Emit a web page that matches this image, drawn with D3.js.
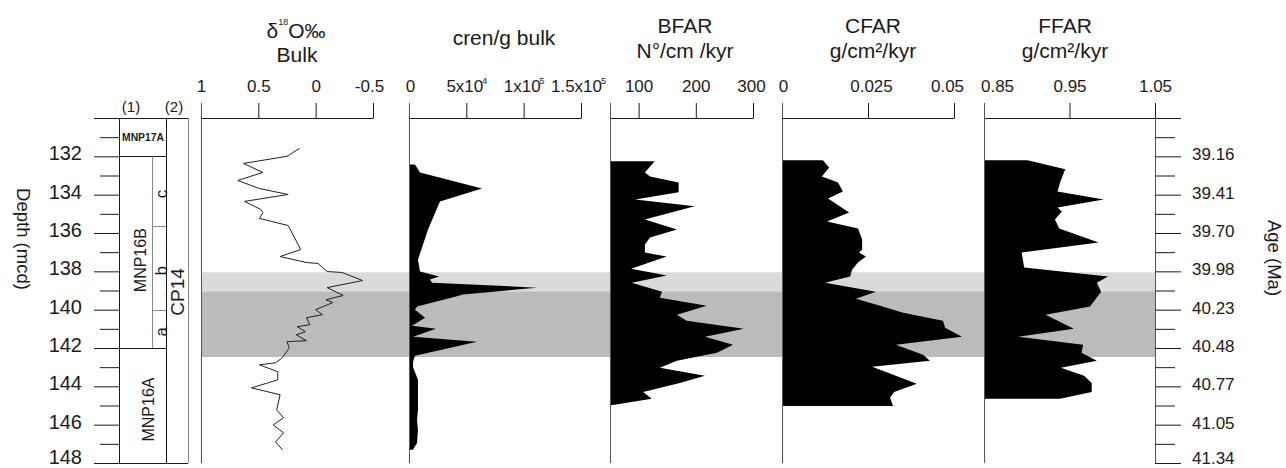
<!DOCTYPE html>
<html>
<head>
<meta charset="utf-8">
<script src="https://cdn.jsdelivr.net/npm/d3@7"></script>
<style>
  body { margin: 0; background: #fff; }
  svg { display: block; }
</style>
</head>
<body>
<svg id="chart" width="1286" height="468"></svg>
<script>
// ---- Depth / age frame ----
const depthDomain = [130, 148];
const depthMajor = [130, 132, 134, 136, 138, 140, 142, 144, 146, 148];
const depthLabels = ["", "132", "134", "136", "138", "140", "142", "144", "146", "148"];
const depthMinor = [131, 133, 135, 137, 139, 141, 143, 145, 147];
const ageLabels = ["", "39.16", "39.41", "39.70", "39.98", "40.23", "40.48", "40.77", "41.05", "41.34"];

// ---- Biostratigraphic zones ----
const zoneNames1 = ["MNP17A", "MNP16B", "MNP16A"];
const zoneTops1 = [130, 132, 142];
const zoneBases1 = [132, 142, 148];
const subZoneNames = ["c", "b", "a"];
const subZoneTops = [132, 135.62, 140.0];
const subZoneBases = [135.62, 140.0, 142];
const zoneNames2 = ["CP14"];

// ---- Shaded intervals ----
const bandTops = [138.05, 139.05];
const bandBases = [139.05, 142.47];

// ---- Bulk oxygen isotopes ----
const d18oTicks = [1, 0.5, 0, -0.5];
const d18oTickLabels = ["1", "0.5", "0", "-0.5"];
const d18oDepth = [131.58,132.0,132.37,132.84,133.26,133.68,133.99,134.35,134.77,134.93,135.24,135.61,136.86,137.23,137.54,137.59,138.01,138.06,138.48,138.85,139.26,139.48,139.63,140.0,140.26,140.42,140.78,140.89,141.15,141.31,141.62,141.67,141.99,142.51,142.77,142.88,143.24,143.66,144.08,144.44,145.23,145.64,146.01,146.43,146.90,147.31];
const d18oValue = [0.14,0.25,0.63,0.46,0.68,0.49,0.24,0.62,0.48,0.46,0.49,0.24,0.13,0.31,0.08,-0.02,-0.10,-0.23,-0.41,-0.10,-0.24,-0.09,-0.15,0.00,-0.06,0.08,0.05,0.16,0.09,0.17,0.08,0.25,0.23,0.29,0.35,0.49,0.33,0.33,0.56,0.31,0.34,0.28,0.37,0.28,0.35,0.29];

// ---- Crenulations per gram of bulk sediment ----
const crenTicks = [0, 50000, 100000, 150000];
const crenTickBase = ["0", "5x10", "1x10", "1.5x10"];
const crenTickExp = ["", "4", "5", "5"];
const crenDepth = [132.42,132.84,133.68,134.35,135.82,137.39,138.01,138.27,138.43,138.59,138.85,139.21,139.32,139.84,140.0,140.42,140.84,141.0,141.41,141.67,142.41,142.73,142.99,143.66,145.23,145.75,146.27,146.95,147.21,147.31];
const crenValue = [5200,9600,63700,27000,16600,7800,9600,26200,18300,20100,111600,47100,40100,7000,5200,14000,2600,23500,3500,59300,5200,3500,3500,7800,7800,7000,7800,7000,4400,3500];

// ---- Benthic foraminiferal accumulation rate ----
const bfarTicks = [100, 200, 300];
const bfarTickLabels = ["100", "200", "300"];
const bfarDepth = [132.25,132.84,133.05,133.36,133.88,134.25,134.61,135.29,135.82,136.24,136.6,137.02,137.23,137.86,138.22,138.59,139.06,139.38,139.8,140.26,140.58,141.0,141.41,141.83,142.25,142.67,143.03,143.45,143.82,144.29,144.65,144.97];
const bfarValue = [128,111,120,170,170,94,198,111,167,120,111,111,149,87,149,88,141,137,219,167,184,284,216,265,237,167,137,216,172,108,123,55];

// ---- Coarse fraction accumulation rate ----
const cfarTicks = [0, 0.025, 0.05];
const cfarTickLabels = ["0", "0.025", "0.05"];
const cfarDepth = [132.21,132.58,133.05,133.36,133.83,134.2,134.93,135.4,135.77,136.34,136.86,137.02,137.23,137.54,137.91,138.27,138.59,139.06,139.43,139.8,140.16,140.58,140.94,141.41,141.83,142.35,142.67,142.98,143.87,144.29,144.6,145.02];
const cfarValue = [0.0119,0.0137,0.0116,0.0163,0.0177,0.0134,0.0195,0.0131,0.0221,0.0233,0.0233,0.0224,0.0244,0.0221,0.0204,0.0198,0.0125,0.0273,0.0215,0.0285,0.0352,0.0468,0.0474,0.0523,0.0331,0.0410,0.0430,0.0262,0.0392,0.0326,0.0314,0.0323];

// ---- Fine fraction accumulation rate ----
const ffarTicks = [0.85, 0.95, 1.05];
const ffarTickLabels = ["0.85", "0.95", "1.05"];
const ffarDepth = [132.21,132.68,133.36,133.83,134.25,134.67,134.88,135.29,135.77,136.5,137.02,137.8,138.27,138.59,139.06,139.84,140.26,141.0,141.41,141.83,142.25,142.67,143.03,143.45,143.82,144.29,144.65];
const ffarValue = [0.901,0.945,0.939,0.936,0.990,0.936,0.941,0.933,0.938,0.984,0.894,0.897,0.995,0.982,0.987,0.974,0.922,0.955,0.890,0.966,0.964,0.982,0.940,0.967,0.976,0.976,0.939];

// ================= drawing =================
const FONT = '"Liberation Sans", Arial, Helvetica, sans-serif';
const INK = "#1a1a1a";
const svg = d3.select("#chart").attr("font-family", FONT);

const axisY = 118;        // top axis baseline
const tickTop = 103;      // upper end of top-axis ticks
const plotBottom = 463;
const y = d3.scaleLinear().domain(depthDomain).range([axisY, plotBottom]);

const xD18O = d3.scaleLinear().domain([1, -0.5]).range([201, 373]);
const xCren = d3.scaleLinear().domain([0, 150000]).range([409, 581]);
const xBfar = d3.scaleLinear().domain([50, 300]).range([610, 753]);
const xCfar = d3.scaleLinear().domain([0, 0.05]).range([782, 954]);
const xFfar = d3.scaleLinear().domain([0.85, 1.05]).range([984, 1155]);
const rightAxisX = 1155;

const zip = (a, b) => a.map((d, i) => ({ depth: d, value: b[i] }));
const crisp = v => Math.round(v) + 0.5;

// shaded intervals
const bandFills = ["#dadada", "#bbbbbb"];
svg.append("g").selectAll("rect")
  .data(bandTops.map((t, i) => ({ top: t, base: bandBases[i], i })))
  .join("rect")
  .attr("x", xD18O.range()[0])
  .attr("width", rightAxisX - xD18O.range()[0])
  .attr("y", d => y(d.top))
  .attr("height", d => y(d.base) - y(d.top))
  .attr("fill", d => bandFills[d.i]);

// filled profiles
function drawArea(scale, depth, value) {
  const area = d3.area()
    .y(d => y(d.depth))
    .x0(scale(scale.domain()[0]))
    .x1(d => scale(d.value));
  svg.append("path")
    .datum(zip(depth, value))
    .attr("d", area)
    .attr("fill", "#000");
}
drawArea(xCren, crenDepth, crenValue);
drawArea(xBfar, bfarDepth, bfarValue);
drawArea(xCfar, cfarDepth, cfarValue);
drawArea(xFfar, ffarDepth, ffarValue);

// isotope curve
svg.append("path")
  .datum(zip(d18oDepth, d18oValue))
  .attr("d", d3.line().x(d => xD18O(d.value)).y(d => y(d.depth)))
  .attr("fill", "none")
  .attr("stroke", "#222")
  .attr("stroke-width", 1);

// top axes; end labels are nudged inwards so neighbouring panels do not collide
function topAxis(scale, ticks, labels, nudge) {
  const g = svg.append("g")
    .attr("transform", `translate(0,${axisY})`)
    .call(d3.axisTop(scale).tickValues(ticks).tickSize(axisY - tickTop)
      .tickSizeOuter(0).tickPadding(11).tickFormat((d, i) => labels[i]));
  g.attr("font-family", null).attr("font-size", null);
  g.select(".domain").attr("stroke", INK);
  g.selectAll(".tick line").attr("stroke", INK);
  g.selectAll(".tick text").attr("fill", INK).attr("font-size", 17)
    .attr("dx", (d, i) => (nudge && nudge[i]) || 0);
  return g;
}
topAxis(xD18O, d18oTicks, d18oTickLabels, [0, 0, 0, -4]);
const crenAxis = topAxis(xCren, crenTicks, crenTickBase, [1, 0, 0, -3]);
crenAxis.selectAll(".tick text").each(function (d, i) {
  if (crenTickExp[i]) {
    d3.select(this).append("tspan")
      .attr("font-size", 9).attr("dy", -8).attr("dx", -1)
      .text(crenTickExp[i]);
  }
});
topAxis(xBfar, bfarTicks, bfarTickLabels, [0, 0, -2]);
topAxis(xCfar, cfarTicks, cfarTickLabels, [1, 3, -7]);
topAxis(xFfar, ffarTicks, ffarTickLabels, [13, 0, 0]);

// panel base lines
[xD18O, xCren, xBfar, xCfar, xFfar].forEach(s => {
  const x = crisp(s.range()[0]);
  svg.append("line")
    .attr("x1", x).attr("x2", x)
    .attr("y1", tickTop).attr("y2", plotBottom)
    .attr("stroke", "#555").attr("stroke-width", 1);
});

// panel titles
function title(cx, lines, baselines, size) {
  lines.forEach((t, i) => {
    svg.append("text")
      .attr("x", cx).attr("y", baselines[i])
      .attr("text-anchor", "middle")
      .attr("font-size", size)
      .attr("fill", INK)
      .text(t);
  });
}
// δ18O title with superscript mass number
const dTitle = svg.append("text")
  .attr("x", 296).attr("y", 38)
  .attr("text-anchor", "middle").attr("font-size", 21).attr("fill", INK);
dTitle.append("tspan").text("δ");
dTitle.append("tspan").attr("font-size", 9).attr("dy", -13).text("18");
dTitle.append("tspan").attr("dy", 13).text("O‰");
title(297, ["Bulk"], [62], 21);
title(504, ["cren/g bulk"], [45], 21);
title(685, ["BFAR", "N°/cm /kyr"], [33, 58], 21);
title(873, ["CFAR", "g/cm²/kyr"], [33, 58], 21);
title(1065, ["FFAR", "g/cm²/kyr"], [33, 58], 21);

// left depth axis
const colL = 119, colSub = 152, colMid = 166, colR = 188;
const lastTick = depthMajor.length - 1;
const leftAxis = svg.append("g")
  .attr("transform", `translate(${colL},0)`)
  .call(d3.axisLeft(y).tickValues(depthMajor).tickSize(25).tickSizeOuter(0)
    .tickPadding(12).tickFormat((d, i) => depthLabels[i]));
leftAxis.attr("font-family", null).attr("font-size", null);
leftAxis.select(".domain").attr("stroke", INK);
leftAxis.selectAll(".tick line").attr("stroke", INK);
leftAxis.selectAll(".tick text").attr("fill", INK).attr("font-size", 20)
  .attr("dy", (d, i) => i === lastTick ? "0em" : "0.18em");
const leftMinor = svg.append("g")
  .attr("transform", `translate(${colL},0)`)
  .call(d3.axisLeft(y).tickValues(depthMinor).tickSize(19).tickFormat(""));
leftMinor.select(".domain").remove();
leftMinor.selectAll(".tick line").attr("stroke", INK);

svg.append("text")
  .attr("transform", "translate(17,239) rotate(90)")
  .attr("text-anchor", "middle").attr("font-size", 18.5).attr("fill", INK)
  .text("Depth (mcd)");

// zone column frame
const zg = svg.append("g").attr("stroke", INK).attr("stroke-width", 1).attr("fill", "none");
const hline = (x1, x2, yy, c) => zg.append("line").attr("x1", x1).attr("x2", x2)
  .attr("y1", crisp(yy)).attr("y2", crisp(yy)).attr("stroke", c || INK);
const vline = (xx, y1, y2, c) => zg.append("line").attr("x1", crisp(xx)).attr("x2", crisp(xx))
  .attr("y1", y1).attr("y2", y2).attr("stroke", c || INK);
hline(94, colR, y(130));
hline(94, colR, y(148));
vline(colMid, y(130), y(148));
vline(colR, y(130), y(148), "#888");
zoneTops1.slice(1).forEach(t => hline(colL, colMid, y(t)));
vline(colSub, y(subZoneTops[0]), y(subZoneBases[2]), "#888");
subZoneTops.slice(1).forEach(t => hline(colSub, colMid, y(t), "#888"));

// column headers
svg.append("text").attr("x", 131).attr("y", 112).attr("text-anchor", "middle")
  .attr("font-size", 15).attr("fill", INK).text("(1)");
svg.append("text").attr("x", 174).attr("y", 112).attr("text-anchor", "middle")
  .attr("font-size", 15).attr("fill", INK).text("(2)");

// zone labels
svg.append("text").attr("x", 143)
  .attr("y", (y(zoneTops1[0]) + y(zoneBases1[0])) / 2 + 4)
  .attr("text-anchor", "middle").attr("font-size", 10.3).attr("font-weight", "bold")
  .attr("fill", INK)
  .text(zoneNames1[0]);
function vLabel(cx, cy, txt, size) {
  svg.append("text")
    .attr("transform", `translate(${cx},${cy}) rotate(-90)`)
    .attr("text-anchor", "middle").attr("dy", "0.35em")
    .attr("font-size", size).attr("fill", INK)
    .text(txt);
}
vLabel(140, (y(zoneTops1[1]) + y(zoneBases1[1])) / 2 + 8, zoneNames1[1], 16);
vLabel(148, (y(zoneTops1[2]) + y(zoneBases1[2])) / 2 + 4, zoneNames1[2], 16);
subZoneNames.forEach((n, i) => {
  vLabel(161, (y(subZoneTops[i]) + y(subZoneBases[i])) / 2 + 3, n, 17);
});
vLabel(177, 292, zoneNames2[0], 19);

// right age axis
const rightAxis = svg.append("g")
  .attr("transform", `translate(${rightAxisX},0)`)
  .call(d3.axisRight(y).tickValues(depthMajor).tickSize(26).tickSizeOuter(0)
    .tickPadding(11).tickFormat((d, i) => ageLabels[i]));
rightAxis.attr("font-family", null).attr("font-size", null);
rightAxis.select(".domain").attr("stroke", "#555");
rightAxis.selectAll(".tick line").attr("stroke", INK);
rightAxis.selectAll(".tick text").attr("fill", INK).attr("font-size", 17)
  .attr("dy", (d, i) => i === lastTick ? "0.02em" : "0.2em");
const rightMinor = svg.append("g")
  .attr("transform", `translate(${rightAxisX},0)`)
  .call(d3.axisRight(y).tickValues(depthMinor).tickSize(20).tickFormat(""));
rightMinor.select(".domain").remove();
rightMinor.selectAll(".tick line").attr("stroke", INK);

svg.append("text")
  .attr("transform", "translate(1268,258) rotate(90)")
  .attr("text-anchor", "middle").attr("font-size", 18.5).attr("fill", INK)
  .text("Age (Ma)");
</script>
</body>
</html>
